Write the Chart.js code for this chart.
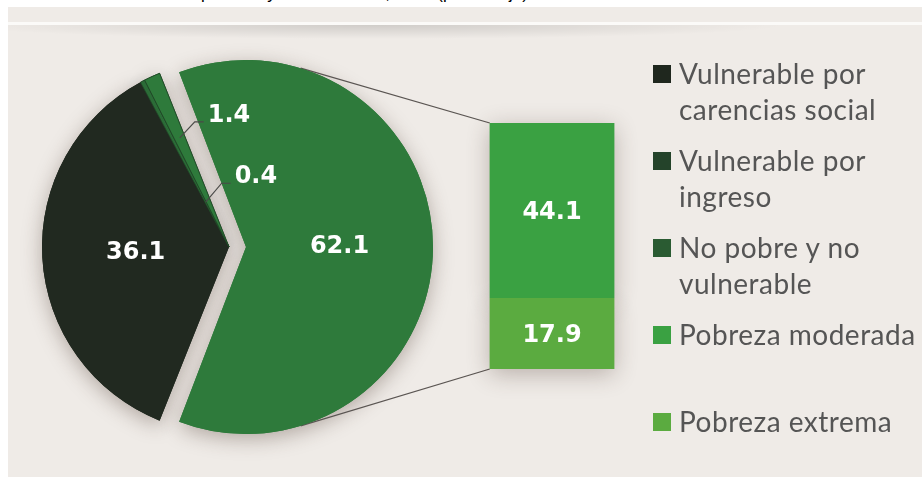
<!DOCTYPE html>
<html>
<head>
<meta charset="utf-8">
<script src="https://cdn.jsdelivr.net/npm/chart.js"></script>
<style>
  html, body { margin: 0; padding: 0; background: #fff; }
  #wrap { position: relative; width: 922px; height: 482px; overflow: hidden; }
  #panel { position: absolute; left: 8px; top: 7px; right: 0; bottom: 5px; background: #efebe7; }
  #rule { position: absolute; left: 8px; right: 0; top: 22px; height: 3px; background: #fbfaf8; }
  #rule-shadow { position: absolute; left: 8px; right: 0; top: 25px; height: 14px;
    background: radial-gradient(ellipse 45% 100% at 40% 0%, rgba(0,0,0,0.13), rgba(0,0,0,0)); }
  #title { position: absolute; left: 201px; top: -16px; font: 17px "Liberation Sans", Arial, sans-serif;
    line-height: 20px; color: #000; white-space: nowrap; }
  #title .pre { position: absolute; right: 100%; }
  #pie { position: absolute; left: 0; top: 0; }
  #bar { position: absolute; left: 450px; top: 83px; }
  #legend { position: absolute; left: 653px; top: 55px; font: 28px Lato, sans-serif; letter-spacing: 0.5px;
    color: #555; }
  .item { position: relative; height: 87px; padding-left: 26px; line-height: 36px; white-space: nowrap; }
  .item i { position: absolute; left: 0; top: 10px; width: 18px; height: 18px; }
</style>
</head>
<body>
<div id="wrap">
  <div id="panel"></div>
  <div id="rule"></div>
  <div id="rule-shadow"></div>
  <div id="title"><span class="pre">Población en situación de&nbsp;</span>pobreza y vulnerabilidad, 2010 (porcentaje)</div>
  <canvas id="pie" width="490" height="482"></canvas>
  <canvas id="bar" width="204" height="326"></canvas>
  <div id="legend"></div>
</div>
<script>
  // pie: share of population
  var pieLabels = ['Vulnerable por carencias social', 'Vulnerable por ingreso', 'No pobre y no vulnerable', 'Pobreza'];
  var pieValues = [36.1, 0.4, 1.4, 62.1];
  var pieColors = ['#212920', '#2b6c37', '#2e7a3b', '#2e7a3b'];

  // bar: breakdown of the poverty slice
  var barCategories = ['Pobreza'];
  var extremaValues = [17.9];
  var moderadaValues = [44.1];

  // legend entries (lines as they wrap in the picture)
  var legendLines = [
    ['Vulnerable por', 'carencias social'],
    ['Vulnerable por', 'ingreso'],
    ['No pobre y no', 'vulnerable'],
    ['Pobreza moderada'],
    ['Pobreza extrema']
  ];
  var legendColors = ['#1f271e', '#24432a', '#2a5b32', '#3aa142', '#5bab40'];

  var labelFont = 'bold 24px "DejaVu Sans", sans-serif';

  // legend built as html
  var legend = document.getElementById('legend');
  legendLines.forEach(function(lines, i) {
    var div = document.createElement('div');
    div.className = 'item';
    div.innerHTML = '<i style="background:' + legendColors[i] + '"></i>' + lines.join('<br>');
    legend.appendChild(div);
  });

  // draws elements once with a soft shadow, the normal pass paints over it
  function shadowPlugin(id, blur, alpha) {
    return {
      id: id,
      beforeDatasetsDraw: function(chart) {
        var ctx = chart.ctx;
        ctx.save();
        ctx.shadowColor = 'rgba(70,50,40,' + alpha + ')';
        ctx.shadowBlur = blur;
        ctx.shadowOffsetY = 5;
        chart.data.datasets.forEach(function(ds, i) {
          chart.getDatasetMeta(i).data.forEach(function(el) { el.draw(ctx); });
        });
        ctx.restore();
      }
    };
  }

  var barChart = new Chart(document.getElementById('bar').getContext('2d'), {
    type: 'bar',
    data: {
      labels: barCategories,
      datasets: [
        { label: 'Pobreza extrema', data: extremaValues, backgroundColor: '#5bab40', borderWidth: 0 },
        { label: 'Pobreza moderada', data: moderadaValues, backgroundColor: '#3aa142', borderWidth: 0 }
      ]
    },
    options: {
      responsive: false,
      animation: false,
      layout: { padding: { top: 40, bottom: 40, left: 0, right: 0 } },
      datasets: { bar: { barPercentage: 0.61, categoryPercentage: 1 } },
      scales: {
        x: { display: false, stacked: true },
        y: { display: false, stacked: true, min: 0, max: extremaValues[0] + moderadaValues[0] }
      },
      plugins: { legend: { display: false }, tooltip: { enabled: false } }
    },
    plugins: [
      shadowPlugin('barShadow', 22, 0.32),
      {
        id: 'barLabels',
        afterDatasetsDraw: function(chart) {
          var ctx = chart.ctx;
          ctx.save();
          ctx.font = labelFont;
          ctx.fillStyle = '#fff';
          ctx.textAlign = 'center';
          ctx.textBaseline = 'middle';
          chart.data.datasets.forEach(function(ds, i) {
            chart.getDatasetMeta(i).data.forEach(function(el, j) {
              ctx.fillText(ds.data[j].toFixed(1), el.x, (el.y + el.base) / 2 + 2);
            });
          });
          ctx.restore();
        }
      }
    ]
  });

  // turn the pie so the exploded slice faces the bar
  var rest = pieValues.slice(0, 3).reduce(function(a, b) { return a + b; }, 0);
  var pieRotation = 90 - pieValues[3] * 1.8 - rest * 3.6;

  // small slices get a leader: [radius fraction, knee dx, knee dy]
  var leaders = { 1: [0.27, 16, -19], 2: [0.64, 15, -16] };

  // Chart.js moves an arc by offset / 4 pixels (and grows a wide arc by the same)
  function arcShift(arc) { return (arc.options.offset || 0) / 4; }
  function arcRadius(arc) { return arc.outerRadius + arcShift(arc); }

  var pieChart = new Chart(document.getElementById('pie').getContext('2d'), {
    type: 'pie',
    data: {
      labels: pieLabels,
      datasets: [{
        data: pieValues,
        backgroundColor: pieColors,
        borderColor: '#1f4526',
        borderWidth: [0, 0.8, 0.8, 0],
        offset: [0, 0, 0, 68]
      }]
    },
    options: {
      responsive: false,
      animation: false,
      rotation: pieRotation,
      radius: 187,
      layout: { padding: { top: 12, bottom: 0, left: 0, right: 32 } },
      plugins: { legend: { display: false }, tooltip: { enabled: false } }
    },
    plugins: [
      {
        // keep the pulled-out slice at the same radius as the others
        id: 'keepRadius',
        afterDatasetsUpdate: function(chart) {
          chart.getDatasetMeta(0).data.forEach(function(arc) {
            if (arc.circumference > Math.PI) arc.outerRadius -= arcShift(arc);
          });
        }
      },
      shadowPlugin('pieShadow', 20, 0.36),
      {
        id: 'connectors',
        beforeDatasetsDraw: function(chart) {
          // lines from the exploded slice to the bar corners
          var arc = chart.getDatasetMeta(0).data[3];
          var mid = (arc.startAngle + arc.endAngle) / 2;
          var R = arcRadius(arc);
          var cx = arc.x + Math.cos(mid) * arcShift(arc);
          var cy = arc.y + Math.sin(mid) * arcShift(arc);
          var bc = barChart.canvas, pc = chart.canvas;
          var dx = bc.offsetLeft - pc.offsetLeft, dy = bc.offsetTop - pc.offsetTop;
          var top = barChart.getDatasetMeta(1).data[0];
          var bot = barChart.getDatasetMeta(0).data[0];
          var left = top.x - top.width / 2 + dx;
          var a = 73 * Math.PI / 180;
          var ctx = chart.ctx;
          ctx.save();
          ctx.strokeStyle = '#5a5552';
          ctx.lineWidth = 1.3;
          ctx.beginPath();
          ctx.moveTo(cx + Math.cos(-a) * R, cy + Math.sin(-a) * R);
          ctx.lineTo(left, top.y + dy);
          ctx.moveTo(cx + Math.cos(a) * R, cy + Math.sin(a) * R);
          ctx.lineTo(left, bot.base + dy);
          ctx.stroke();
          ctx.restore();
        },
        afterDatasetsDraw: function(chart) {
          var ctx = chart.ctx;
          ctx.save();
          ctx.font = labelFont;
          ctx.fillStyle = '#fff';
          chart.getDatasetMeta(0).data.forEach(function(arc, i) {
            var mid = (arc.startAngle + arc.endAngle) / 2;
            var off = arcShift(arc);
            var R = arcRadius(arc);
            var cx = arc.x + Math.cos(mid) * off, cy = arc.y + Math.sin(mid) * off;
            var txt = pieValues[i].toFixed(1);
            var ld = leaders[i];
            if (ld) {
              var r = R * ld[0];
              var px = cx + Math.cos(mid) * r, py = cy + Math.sin(mid) * r;
              var kx = px + ld[1], ky = py + ld[2];
              ctx.strokeStyle = '#4a4a48';
              ctx.lineWidth = 1.2;
              ctx.beginPath();
              ctx.moveTo(px, py);
              ctx.lineTo(kx, ky);
              ctx.lineTo(kx + 9, ky);
              ctx.stroke();
              ctx.textAlign = 'left';
              ctx.textBaseline = 'alphabetic';
              ctx.fillText(txt, kx + 13, ky);
            } else {
              ctx.textAlign = 'center';
              ctx.textBaseline = 'middle';
              ctx.fillText(txt, cx + Math.cos(mid) * R * 0.5, cy + Math.sin(mid) * R * 0.5);
            }
          });
          ctx.restore();
        }
      }
    ]
  });
</script>
</body>
</html>
